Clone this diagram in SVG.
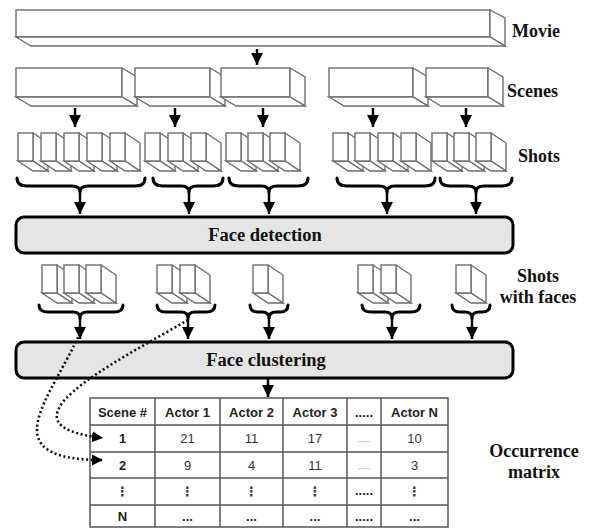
<svg xmlns="http://www.w3.org/2000/svg" xmlns:xlink="http://www.w3.org/1999/xlink" width="593" height="528" viewBox="0 0 593 528">
<style>
.box{fill:#fff;stroke:#6e6e6e;stroke-width:1.4;stroke-linejoin:miter}
.lbl{font-family:"Liberation Serif","Times New Roman",serif;font-weight:bold;font-size:18px;fill:#111}
.proc{fill:#e5e5e5;stroke:#000;stroke-width:3}
.ptxt{font-family:"Liberation Serif","Times New Roman",serif;font-weight:bold;font-size:18.5px;fill:#111;text-anchor:middle}
.brace{fill:none;stroke:#000;stroke-width:3;stroke-linecap:round;stroke-linejoin:round}
.arr{fill:none;stroke:#000;stroke-width:2.5;marker-end:url(#ah)}
.dot{fill:none;stroke:#111;stroke-width:2.6;stroke-dasharray:2 2.6;marker-end:url(#ahs)}
.grid{fill:none;stroke:#555;stroke-width:1.5}
.th{font-family:"Liberation Sans",Arial,sans-serif;font-weight:bold;font-size:13px;fill:#222;text-anchor:middle}
.td{font-family:"Liberation Sans",Arial,sans-serif;font-size:13px;fill:#333;text-anchor:middle}
.tb{font-family:"Liberation Sans",Arial,sans-serif;font-weight:bold;font-size:13px;fill:#222;text-anchor:middle}
.vd{font-family:"DejaVu Sans",sans-serif;font-weight:bold;font-size:13px;fill:#333;text-anchor:middle}
.sm{font-family:"Liberation Sans",Arial,sans-serif;font-size:9px;fill:#777;text-anchor:middle}
</style>
<defs>
<marker id="ah" markerUnits="userSpaceOnUse" markerWidth="12" markerHeight="12" viewBox="0 0 10 10" refX="10" refY="5" orient="auto">
<path d="M0,0 L10,5 L0,10 z" fill="#000"/>
</marker>
<marker id="ahs" markerUnits="userSpaceOnUse" markerWidth="11" markerHeight="11" viewBox="0 0 10 10" refX="10" refY="5" orient="auto">
<path d="M0,0 L10,5 L0,10 z" fill="#000"/>
</marker>
<g id="shot">
<polygon class="box" points="15,0 30,10 30,38 15,28"/>
<polygon class="box" points="0,28 15,38 30,38 15,28"/>
<rect class="box" x="0" y="0" width="15" height="28"/>
</g>
</defs>

<g id="movie">
<rect class="box" x="16" y="10" width="474" height="27"/>
<polygon class="box" points="490,10 505,18 505,46 490,37"/>
<polygon class="box" points="16,37 31,46 505,46 490,37"/>
<text class="lbl" x="512" y="37">Movie</text>
</g>

<g id="scenes">
<g id="scene1"><rect class="box" x="16" y="68" width="106" height="29"/><polygon class="box" points="122,68 137,77 137,106 122,97"/><polygon class="box" points="16,97 31,106 137,106 122,97"/></g>
<g id="scene2"><rect class="box" x="135" y="68" width="75" height="29"/><polygon class="box" points="210,68 225,77 225,106 210,97"/><polygon class="box" points="135,97 150,106 225,106 210,97"/></g>
<g id="scene3"><rect class="box" x="221" y="68" width="69" height="29"/><polygon class="box" points="290,68 305,77 305,106 290,97"/><polygon class="box" points="221,97 236,106 305,106 290,97"/></g>
<g id="scene4"><rect class="box" x="329" y="68" width="84" height="29"/><polygon class="box" points="413,68 428,77 428,106 413,97"/><polygon class="box" points="329,97 344,106 428,106 413,97"/></g>
<g id="scene5"><rect class="box" x="426" y="68" width="62" height="29"/><polygon class="box" points="488,68 503,77 503,106 488,97"/><polygon class="box" points="426,97 441,106 503,106 488,97"/></g>
<text class="lbl" x="507" y="97">Scenes</text>
</g>

<g id="shots">
<use xlink:href="#shot" x="18" y="133"/><use xlink:href="#shot" x="41" y="133"/><use xlink:href="#shot" x="64" y="133"/><use xlink:href="#shot" x="87" y="133"/><use xlink:href="#shot" x="110" y="133"/>
<use xlink:href="#shot" x="145" y="133"/><use xlink:href="#shot" x="168" y="133"/><use xlink:href="#shot" x="191" y="133"/>
<use xlink:href="#shot" x="226" y="133"/><use xlink:href="#shot" x="248" y="133"/><use xlink:href="#shot" x="270" y="133"/>
<use xlink:href="#shot" x="333" y="133"/><use xlink:href="#shot" x="355" y="133"/><use xlink:href="#shot" x="378" y="133"/><use xlink:href="#shot" x="401" y="133"/>
<use xlink:href="#shot" x="432" y="133"/><use xlink:href="#shot" x="454" y="133"/><use xlink:href="#shot" x="476" y="133"/>
<text class="lbl" x="518" y="162">Shots</text>
</g>

<g id="face-detection">
<rect class="proc" x="16" y="217" width="497" height="36" rx="8"/>
<text class="ptxt" x="265" y="241">Face detection</text>
</g>

<g id="shots-with-faces">
<use xlink:href="#shot" x="42" y="265"/><use xlink:href="#shot" x="64" y="265"/><use xlink:href="#shot" x="86" y="265"/>
<use xlink:href="#shot" x="157" y="265"/><use xlink:href="#shot" x="180" y="265"/>
<use xlink:href="#shot" x="253" y="265"/>
<use xlink:href="#shot" x="358" y="265"/><use xlink:href="#shot" x="381" y="265"/>
<use xlink:href="#shot" x="456" y="265"/>
<text class="lbl" x="538" y="282" text-anchor="middle">Shots</text>
<text class="lbl" x="538" y="303" text-anchor="middle">with faces</text>
</g>

<g id="face-clustering">
<rect class="proc" x="16" y="342" width="497" height="36" rx="8"/>
<text class="ptxt" x="266" y="366">Face clustering</text>
</g>

<g id="occurrence-matrix">
<rect class="grid" x="90" y="398" width="358" height="129"/>
<line class="grid" x1="90" y1="425" x2="448" y2="425"/>
<line class="grid" x1="90" y1="452" x2="448" y2="452"/>
<line class="grid" x1="90" y1="478" x2="448" y2="478"/>
<line class="grid" x1="90" y1="505" x2="448" y2="505"/>
<line class="grid" x1="155" y1="398" x2="155" y2="527"/>
<line class="grid" x1="220" y1="398" x2="220" y2="527"/>
<line class="grid" x1="283" y1="398" x2="283" y2="527"/>
<line class="grid" x1="347" y1="398" x2="347" y2="527"/>
<line class="grid" x1="381" y1="398" x2="381" y2="527"/>
<text class="th" x="122.5" y="417">Scene #</text>
<text class="th" x="187.5" y="417">Actor 1</text>
<text class="th" x="251.5" y="417">Actor 2</text>
<text class="th" x="315" y="417">Actor 3</text>
<text class="th" x="364" y="417">.....</text>
<text class="th" x="414.5" y="417">Actor N</text>
<text class="tb" x="122.5" y="443">1</text>
<text class="td" x="187.5" y="443">21</text>
<text class="td" x="251.5" y="443">11</text>
<text class="td" x="315" y="443">17</text>
<text class="sm" x="364" y="442">.....</text>
<text class="td" x="414.5" y="443">10</text>
<text class="tb" x="122.5" y="470">2</text>
<text class="td" x="187.5" y="470">9</text>
<text class="td" x="251.5" y="470">4</text>
<text class="td" x="315" y="470">11</text>
<text class="sm" x="364" y="469">.....</text>
<text class="td" x="414.5" y="470">3</text>
<text class="vd" x="122.5" y="496">⋮</text>
<text class="vd" x="187.5" y="496">⋮</text>
<text class="vd" x="251.5" y="496">⋮</text>
<text class="vd" x="315" y="496">⋮</text>
<text class="tb" x="364" y="495">.....</text>
<text class="vd" x="414.5" y="496">⋮</text>
<text class="tb" x="122.5" y="521">N</text>
<text class="tb" x="187.5" y="521">...</text>
<text class="tb" x="251.5" y="521">...</text>
<text class="tb" x="315" y="521">...</text>
<text class="tb" x="364" y="521">.....</text>
<text class="tb" x="414.5" y="521">...</text>
<text class="lbl" x="534" y="457" text-anchor="middle">Occurrence</text>
<text class="lbl" x="534" y="478" text-anchor="middle">matrix</text>
</g>

<g id="connectors">
<line class="arr" x1="257" y1="49" x2="257" y2="65"/>
<line class="arr" x1="75" y1="108" x2="75" y2="127"/>
<line class="arr" x1="175" y1="108" x2="175" y2="127"/>
<line class="arr" x1="263" y1="108" x2="263" y2="127"/>
<line class="arr" x1="373" y1="108" x2="373" y2="127"/>
<line class="arr" x1="466" y1="108" x2="466" y2="127"/>
<path class="brace" d="M17,178 Q17,186 27,186 H72 Q80,186 80,192 Q80,186 88,186 H135 Q145,186 145,178"/>
<path class="brace" d="M153,178 Q153,186 163,186 H181 Q189,186 189,192 Q189,186 197,186 H213 Q223,186 223,178"/>
<path class="brace" d="M229,178 Q229,186 239,186 H261 Q269,186 269,192 Q269,186 277,186 H298 Q308,186 308,178"/>
<path class="brace" d="M337,178 Q337,186 347,186 H379 Q387,186 387,192 Q387,186 395,186 H425 Q435,186 435,178"/>
<path class="brace" d="M440,178 Q440,186 450,186 H468 Q476,186 476,192 Q476,186 484,186 H502 Q512,186 512,178"/>
<line class="arr" x1="80" y1="191" x2="80" y2="214"/>
<line class="arr" x1="189" y1="191" x2="189" y2="214"/>
<line class="arr" x1="269" y1="191" x2="269" y2="214"/>
<line class="arr" x1="387" y1="191" x2="387" y2="214"/>
<line class="arr" x1="476" y1="191" x2="476" y2="214"/>
<path class="brace" d="M39,305 Q39,312 48,312 H73 Q80,312 80,318 Q80,312 87,312 H114 Q123,312 123,305"/>
<path class="brace" d="M157,305 Q157,312 166,312 H181 Q188,312 188,318 Q188,312 195,312 H206 Q215,312 215,305"/>
<path class="brace" d="M250,305 Q250,312 258,312 H262 Q269,312 269,318 Q269,312 276,312 H280 Q288,312 288,305"/>
<path class="brace" d="M362,305 Q362,312 371,312 H385 Q392,312 392,318 Q392,312 399,312 H411 Q420,312 420,305"/>
<path class="brace" d="M452,305 Q452,312 460,312 H465 Q472,312 472,318 Q472,312 479,312 H482 Q490,312 490,305"/>
<line class="arr" x1="80" y1="317" x2="80" y2="339"/>
<line class="arr" x1="188" y1="317" x2="188" y2="339"/>
<line class="arr" x1="269" y1="317" x2="269" y2="339"/>
<line class="arr" x1="392" y1="317" x2="392" y2="339"/>
<line class="arr" x1="472" y1="317" x2="472" y2="339"/>
<line class="arr" x1="268" y1="379" x2="268" y2="397"/>
<path class="dot" d="M80,333 C50,400 -10,460 103,460"/>
<path class="dot" d="M188,320 C110,365 -10,425 103,438"/>
</g>
</svg>
